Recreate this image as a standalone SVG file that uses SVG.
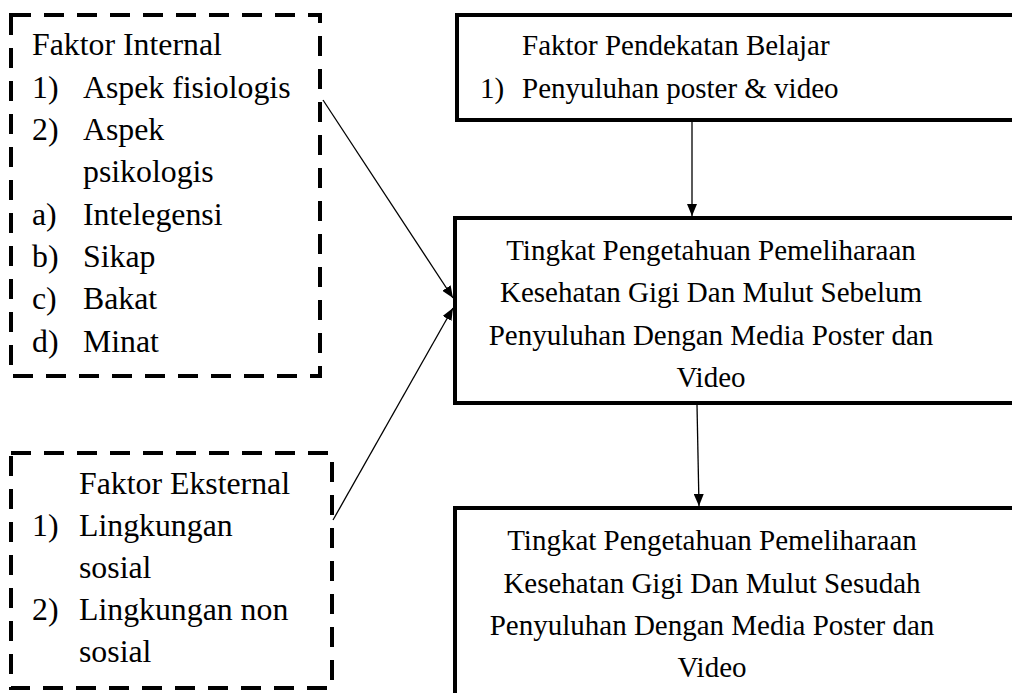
<svg xmlns="http://www.w3.org/2000/svg" width="1012" height="693" viewBox="0 0 1012 693">
<style>
text{font-family:'Liberation Serif','Times New Roman',serif;fill:#000}
.t{font-size:31.8px}
.r{font-size:29px}
.c{text-anchor:middle}
.dash{fill:none;stroke:#000;stroke-width:4;stroke-dasharray:20 13}
.solid{fill:none;stroke:#000;stroke-width:4}
.ln{fill:none;stroke:#000;stroke-width:1.3}
</style>
<defs>
<marker id="ah" markerWidth="12" markerHeight="10" refX="12" refY="5" orient="auto" markerUnits="userSpaceOnUse">
<path d="M0,0 L12,5 L0,10 z" fill="#000"/>
</marker>
</defs>
<rect width="1012" height="693" fill="#fff"/>
<g id="internal">
<rect class="dash" x="11" y="15" width="309" height="361"/>
<text class="t" x="32" y="55">Faktor Internal</text>
<text class="t" x="32" y="98">1)</text><text class="t" x="83" y="98">Aspek fisiologis</text>
<text class="t" x="32" y="140">2)</text><text class="t" x="83" y="140">Aspek</text>
<text class="t" x="83" y="182">psikologis</text>
<text class="t" x="32" y="225">a)</text><text class="t" x="83" y="225">Intelegensi</text>
<text class="t" x="32" y="267">b)</text><text class="t" x="83" y="267">Sikap</text>
<text class="t" x="32" y="309">c)</text><text class="t" x="83" y="309">Bakat</text>
<text class="t" x="32" y="352">d)</text><text class="t" x="83" y="352">Minat</text>
</g>
<g id="eksternal">
<rect class="dash" x="11" y="453" width="321" height="235"/>
<text class="t" x="79" y="494">Faktor Eksternal</text>
<text class="t" x="32" y="536">1)</text><text class="t" x="79" y="536">Lingkungan</text>
<text class="t" x="79" y="578">sosial</text>
<text class="t" x="32" y="620">2)</text><text class="t" x="79" y="620">Lingkungan non</text>
<text class="t" x="79" y="662">sosial</text>
</g>
<g id="pendekatan">
<rect class="solid" x="457" y="15" width="570" height="105"/>
<text class="r" x="522" y="55">Faktor Pendekatan Belajar</text>
<text class="r" x="480" y="98">1)</text><text class="r" x="522" y="98">Penyuluhan poster &amp; video</text>
</g>
<g id="sebelum">
<rect class="solid" x="455" y="218" width="570" height="185"/>
<text class="r c" x="711" y="260">Tingkat Pengetahuan Pemeliharaan</text>
<text class="r c" x="711" y="302">Kesehatan Gigi Dan Mulut Sebelum</text>
<text class="r c" x="711" y="345">Penyuluhan Dengan Media Poster dan</text>
<text class="r c" x="711" y="387">Video</text>
</g>
<g id="sesudah">
<rect class="solid" x="455" y="508" width="570" height="200"/>
<text class="r c" x="712" y="550">Tingkat Pengetahuan Pemeliharaan</text>
<text class="r c" x="712" y="593">Kesehatan Gigi Dan Mulut Sesudah</text>
<text class="r c" x="712" y="635">Penyuluhan Dengan Media Poster dan</text>
<text class="r c" x="712" y="677">Video</text>
</g>
<g id="connectors">
<line class="ln" x1="692" y1="122" x2="692" y2="216" marker-end="url(#ah)"/>
<line class="ln" x1="697" y1="405" x2="699" y2="506" marker-end="url(#ah)"/>
<line class="ln" x1="323" y1="100" x2="453" y2="298" marker-end="url(#ah)"/>
<line class="ln" x1="333" y1="520" x2="453" y2="308" marker-end="url(#ah)"/>
</g>
</svg>
